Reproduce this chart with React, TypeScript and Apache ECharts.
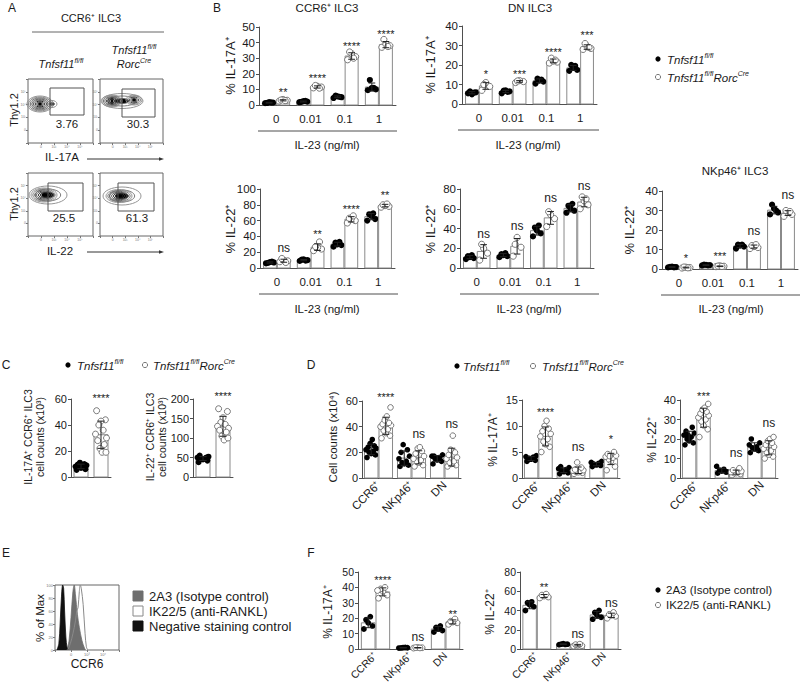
import React, { useEffect, useRef } from "react";
import * as echarts from "echarts";

const FONT = "'Liberation Sans', Arial, Helvetica, sans-serif";
const TXT = "#1a1a1a";
const AXIS = "#4f4f4f";
const BAR_EDGE = "#8a8a8a";
const OPEN_EDGE = "#6a6a6a";

// ---------- categories ----------
const IL23_DOSES = ["0", "0.01", "0.1", "1"];
const SUBSETS = ["CCR6⁺", "NKp46⁺", "DN"];
const C_GROUPS = ["fl/fl", "fl/fl Rorc-Cre"];

// ---------- B: IL-23 dose response ----------
const B1_FLOX = [[1.2, 1.5, 1.8, 1.3, 1.6], [1.8, 2.2, 2.5, 2.0, 2.6], [4.5, 5, 5.5, 6, 5.2], [9.5, 10, 11, 16, 11]];
const B1_CRE = [[2.5, 3.0, 3.5, 3.2, 2.8], [11, 11.5, 12, 12.5, 10.8], [29, 31, 33, 34, 30], [37, 38, 39, 42, 37.5]];
const B1_SIG = ["**", "****", "****", "****"];
const B1_SIG_Y = [10, 19, 39.5, 47];

const B2_FLOX = [[5.5, 6, 5, 6.5, 5.8], [5.5, 6.5, 7, 6.8, 6.2], [10.5, 11.5, 12, 13, 12.5], [17, 17.5, 18.5, 20, 19.5]];
const B2_CRE = [[7, 9, 11, 10], [11, 11.5, 12, 11.8], [21, 21.5, 22, 23.5, 22.5], [28, 28.5, 29.5, 31, 29]];
const B2_SIG = ["*", "***", "****", "***"];
const B2_SIG_Y = [16.5, 16.9, 28, 36.6];

const B3_FLOX = [[6, 7, 7.5, 6.5, 8], [9, 10, 11, 10.5, 9.5], [27, 29, 30, 32, 33], [60, 62, 66, 68, 69]];
const B3_CRE = [[8, 9, 10, 12, 7], [22, 24, 26, 27, 33], [57, 60, 62, 63, 66], [77, 78, 79, 80, 81]];
const B3_SIG = ["ns", "**", "****", "**"];
const B3_SIG_Y = [25.3, 46.4, 78, 95];

const B4_FLOX = [[9, 10, 11, 12, 13], [11, 12, 13, 14, 15], [32, 35, 38, 41, 43], [56, 58, 60, 63, 65]];
const B4_CRE = [[8, 15, 20, 24], [12, 21, 31, 24], [42, 50, 54, 57], [60, 64, 68, 72, 70]];
const B4_SIG = ["ns", "ns", "ns", "ns"];
const B4_SIG_Y = [34.7, 43, 71, 82.6];

const B5_FLOX = [[0.8, 1, 1.2, 1.1, 0.9], [1.8, 2, 2.1, 2.2, 1.9], [10.5, 11.5, 12, 12.5, 12.5], [28, 29, 31, 33, 30]];
const B5_CRE = [[0.5, 0.7, 0.9, 1.0, 0.6], [1.2, 1.4, 1.6, 1.5, 1.3], [10.5, 11, 11.5, 12, 12.5], [27, 28, 29, 30, 29.5]];
const B5_SIG = ["*", "***", "ns", "ns"];
const B5_SIG_Y = [6.8, 7.8, 19.4, 37.8];

// ---------- C: cell counts ----------
const C1_FLOX = [5.5, 6, 7, 7.5, 8, 8, 9, 9.5, 10, 11];
const C1_CRE = [51, 44, 43, 40, 36, 33, 30, 28, 25, 22, 19, 19];
const C1_SIG = ["****"];
const C1_SIG_Y = [62.5];

const C2_FLOX = [38, 42, 45, 47, 48, 50, 52, 55, 50, 46];
const C2_CRE = [175, 168, 152, 140, 135, 130, 125, 120, 115, 105, 95, 100];
const C2_SIG = ["****"];
const C2_SIG_Y = [214];

// ---------- D: subsets ----------
const D1_FLOX = [[16, 18, 19, 20, 21, 22, 23, 24, 25, 27, 30], [9, 10, 11, 12, 13, 15, 17, 20, 22, 26], [11, 13, 14, 15, 16, 17, 18, 17]];
const D1_CRE = [[31, 33, 35, 37, 38, 40, 41, 42, 43, 45, 48, 55], [9, 10, 12, 13, 14, 15, 17, 19, 21, 23, 24], [9, 10, 11, 12, 13, 15, 16, 18, 20, 22, 33]];
const D1_SIG = ["****", "ns", "ns"];
const D1_SIG_Y = [65.4, 34.4, 42.2];

const D2_FLOX = [[3.2, 3.4, 3.6, 3.8, 4.0, 4.1, 4.3, 3.5], [0.8, 1.0, 1.2, 1.4, 1.6, 1.8, 2.0, 2.2, 1.5], [2.2, 2.4, 2.5, 2.6, 2.8, 3.0, 3.2, 2.7]];
const D2_CRE = [[5, 6, 6.5, 7, 7.5, 8, 8.5, 9, 9.5, 10, 11], [0.8, 1.0, 1.1, 1.2, 1.3, 1.4, 1.5, 1.6, 2.0, 3.0], [1.5, 2.2, 3.2, 3.6, 3.9, 4.1, 4.3, 4.6, 5.0, 4.2]];
const D2_SIG = ["****", "ns", "*"];
const D2_SIG_Y = [13.2, 6, 7.9];

const D3_FLOX = [[17, 18, 19, 20, 21, 22, 23, 24, 26, 22], [2.5, 3, 3.5, 4, 4.5, 6, 3.2], [13, 14, 15, 15.5, 16, 17, 18, 20, 14.5]];
const D3_CRE = [[21, 25, 27, 29, 30, 31, 32, 33, 34, 35, 36, 38], [1.5, 2, 2.5, 2.5, 3, 3, 3.5, 4, 5], [10, 11, 12, 13, 14, 15, 16, 17, 18, 19, 20, 21]];
const D3_SIG = ["***", "ns", "ns"];
const D3_SIG_Y = [43.5, 12.9, 28];

// ---------- F: antibody treatment ----------
const F1_ISO = [[13, 15, 17, 19, 21], [0.6, 0.8, 0.9, 0.7, 1.0], [11, 12, 13, 14, 15]];
const F1_ANTI = [[33, 35, 37.5, 39, 40, 38], [0.6, 0.8, 1.0, 0.9, 0.7], [16, 17, 17.5, 18, 19.5]];
const F1_SIG = ["****", "ns", "**"];
const F1_SIG_Y = [46.4, 7.5, 24.2];

const F2_ISO = [[40, 44, 46, 48, 49], [4.5, 5, 5.5, 5, 4.8], [31, 33, 35, 38, 40]];
const F2_ANTI = [[53, 54, 55, 56, 57], [3, 3.5, 4, 4.5, 5], [32, 34, 35, 36, 38]];
const F2_SIG = ["**", "ns", "ns"];
const F2_SIG_Y = [67.3, 15.8, 47.4];

// ---------- E: CCR6 histograms (x in % of plotted decade range, y in % of max) ----------
const HIST_NEG = [[3, 0], [6, 10], [8, 40], [10, 80], [12, 100], [13.5, 95], [15, 60], [17, 20], [19, 3], [21, 0]];
const HIST_ISO = [[19, 0], [22, 15], [25, 50], [28, 90], [30, 100], [32, 85], [35, 55], [38, 35], [42, 15], [46, 3], [48, 0]];
const HIST_ANTI = [[20, 0], [24, 10], [28, 25], [32, 45], [34, 60], [36, 65], [38, 90], [39.5, 100], [41, 95], [44, 70], [47, 25], [49, 5], [51, 0]];

// ---------- A: flow gate percentages ----------
const A_PCT = ["3.76", "30.3", "25.5", "61.3"];

// ---------- helpers ----------
const mean = (a: number[]) => a.reduce((s, v) => s + v, 0) / a.length;
const sd = (a: number[]) => {
  const m = mean(a);
  return Math.sqrt(a.reduce((s, v) => s + (v - m) * (v - m), 0) / Math.max(1, a.length - 1));
};
const JIT = [-0.8, 0.8, 0, -0.4, 0.4, -1, 1, -0.6, 0.6, -0.2, 0.2, 0.9];

type PanelDef = {
  cats: string[];
  a: number[][];
  b: number[][];
  sig: string[];
  sigY: number[];
  yMax: number;
  yStep: number;
  box: [number, number, number, number];
  barFrac: number;
  dotR: number;
  labels: "flat" | "rot" | "none";
  labelSize: number;
  tickSize: number;
  single?: boolean;
};

const PANELS: PanelDef[] = [
  { cats: IL23_DOSES, a: B1_FLOX, b: B1_CRE, sig: B1_SIG, sigY: B1_SIG_Y, yMax: 50, yStep: 10, box: [259, 27, 137, 78], barFrac: 0.38, dotR: 3.1, labels: "flat", labelSize: 11.5, tickSize: 11.5 },
  { cats: IL23_DOSES, a: B2_FLOX, b: B2_CRE, sig: B2_SIG, sigY: B2_SIG_Y, yMax: 40, yStep: 10, box: [462, 26, 135, 78], barFrac: 0.38, dotR: 3.1, labels: "flat", labelSize: 11.5, tickSize: 11.5 },
  { cats: IL23_DOSES, a: B3_FLOX, b: B3_CRE, sig: B3_SIG, sigY: B3_SIG_Y, yMax: 100, yStep: 20, box: [260, 189, 135, 79], barFrac: 0.38, dotR: 3.1, labels: "flat", labelSize: 11.5, tickSize: 11.5 },
  { cats: IL23_DOSES, a: B4_FLOX, b: B4_CRE, sig: B4_SIG, sigY: B4_SIG_Y, yMax: 80, yStep: 20, box: [460, 189, 134, 79], barFrac: 0.38, dotR: 3.1, labels: "flat", labelSize: 11.5, tickSize: 11.5 },
  { cats: IL23_DOSES, a: B5_FLOX, b: B5_CRE, sig: B5_SIG, sigY: B5_SIG_Y, yMax: 40, yStep: 10, box: [662, 191, 136, 78], barFrac: 0.38, dotR: 3.1, labels: "flat", labelSize: 11.5, tickSize: 11.5 },
  { cats: C_GROUPS, a: [C1_FLOX], b: [C1_CRE], sig: C1_SIG, sigY: C1_SIG_Y, yMax: 60, yStep: 20, box: [71, 399, 40, 78], barFrac: 0.7, dotR: 3, labels: "none", labelSize: 11, tickSize: 11, single: true },
  { cats: C_GROUPS, a: [C2_FLOX], b: [C2_CRE], sig: C2_SIG, sigY: C2_SIG_Y, yMax: 200, yStep: 50, box: [193, 399, 40, 78], barFrac: 0.7, dotR: 3, labels: "none", labelSize: 11, tickSize: 11, single: true },
  { cats: SUBSETS, a: D1_FLOX, b: D1_CRE, sig: D1_SIG, sigY: D1_SIG_Y, yMax: 60, yStep: 20, box: [362, 401, 99, 77], barFrac: 0.41, dotR: 2.8, labels: "rot", labelSize: 11.5, tickSize: 11 },
  { cats: SUBSETS, a: D2_FLOX, b: D2_CRE, sig: D2_SIG, sigY: D2_SIG_Y, yMax: 15, yStep: 5, box: [522, 400, 98, 78], barFrac: 0.41, dotR: 2.8, labels: "rot", labelSize: 11.5, tickSize: 11 },
  { cats: SUBSETS, a: D3_FLOX, b: D3_CRE, sig: D3_SIG, sigY: D3_SIG_Y, yMax: 40, yStep: 10, box: [680, 400, 98, 78], barFrac: 0.41, dotR: 2.8, labels: "rot", labelSize: 11.5, tickSize: 11 },
  { cats: SUBSETS, a: F1_ISO, b: F1_ANTI, sig: F1_SIG, sigY: F1_SIG_Y, yMax: 50, yStep: 10, box: [358, 572, 105, 77], barFrac: 0.39, dotR: 2.9, labels: "rot", labelSize: 10.5, tickSize: 10.5 },
  { cats: SUBSETS, a: F2_ISO, b: F2_ANTI, sig: F2_SIG, sigY: F2_SIG_Y, yMax: 80, yStep: 20, box: [520, 572, 101, 77], barFrac: 0.4, dotR: 2.9, labels: "rot", labelSize: 10.5, tickSize: 10.5 },
];

function barSeries(pi: number, p: PanelDef) {
  const items: any[] = [];
  if (p.single) {
    items.push({ cat: 0, grp: 0, dots: p.a[0], pos: "c" });
    items.push({ cat: 1, grp: 1, dots: p.b[0], pos: "c", sig: p.sig[0], sigY: p.sigY[0] });
  } else {
    p.cats.forEach((_, c) => {
      items.push({ cat: c, grp: 0, dots: p.a[c], pos: "l" });
      items.push({ cat: c, grp: 1, dots: p.b[c], pos: "r", sig: p.sig[c], sigY: p.sigY[c] });
    });
  }
  return {
    type: "custom",
    xAxisIndex: pi,
    yAxisIndex: pi,
    clip: false,
    silent: true,
    data: items.map((it) => [it.cat, mean(it.dots)]),
    encode: { x: 0, y: 1 },
    renderItem: (params: any, api: any) => {
      const it = items[params.dataIndex];
      const band = api.size([1, 0])[0];
      const base = api.coord([it.cat, 0]);
      const cx = base[0];
      const y0 = base[1];
      const bw = band * p.barFrac;
      let x0 = cx - bw / 2;
      if (it.pos === "l") x0 = cx - bw - 0.5;
      if (it.pos === "r") x0 = cx + 0.5;
      const xm = x0 + bw / 2;
      const m = mean(it.dots);
      const s = sd(it.dots);
      const ym = api.coord([it.cat, m])[1];
      const children: any[] = [];
      children.push({
        type: "rect",
        shape: { x: x0, y: ym, width: bw, height: y0 - ym },
        style: { fill: "#fff", stroke: BAR_EDGE, lineWidth: 1 },
      });
      const spread = Math.max(2, bw / 2 - 1.5);
      it.dots.forEach((v: number, i: number) => {
        const y = api.coord([it.cat, v])[1];
        const dx = JIT[i % JIT.length] * spread;
        children.push({
          type: "circle",
          shape: { cx: xm + dx, cy: y, r: p.dotR },
          style: it.grp === 0 ? { fill: "#000" } : { fill: "#fff", stroke: OPEN_EDGE, lineWidth: 0.9 },
        });
      });
      const yt = api.coord([it.cat, m + s])[1];
      const yb = api.coord([it.cat, Math.max(0, m - s)])[1];
      const cap = bw * 0.26;
      const es = { stroke: "#222", lineWidth: 1 };
      children.push({ type: "line", shape: { x1: xm, y1: yt, x2: xm, y2: yb }, style: es });
      children.push({ type: "line", shape: { x1: xm - cap, y1: yt, x2: xm + cap, y2: yt }, style: es });
      children.push({ type: "line", shape: { x1: xm - cap, y1: yb, x2: xm + cap, y2: yb }, style: es });
      if (it.sig) {
        const isNs = it.sig === "ns";
        const ys = api.coord([it.cat, it.sigY])[1] + (isNs ? 0 : 2.5);
        children.push({
          type: "text",
          x: xm,
          y: ys,
          style: {
            text: it.sig,
            fill: TXT,
            fontSize: isNs ? 12 : 11,
            fontFamily: FONT,
            align: "center",
            verticalAlign: "middle",
          },
        });
      }
      return { type: "group", children };
    },
  };
}

const RICH = (size: number) => ({
  i: { fontStyle: "italic", fontSize: size, fontFamily: FONT, fill: TXT, lineHeight: size + 2, verticalAlign: "bottom" },
  s: { fontStyle: "italic", fontSize: Math.round(size * 0.64), fontFamily: FONT, fill: TXT, lineHeight: 6, verticalAlign: "top" },
  n: { fontSize: size, fontFamily: FONT, fill: TXT, lineHeight: size + 2, verticalAlign: "bottom" },
});

function txt(text: string, x: number, y: number, o: any = {}) {
  return {
    type: "text",
    x,
    y,
    rotation: o.rot || 0,
    silent: true,
    z: 10,
    style: {
      text,
      fill: o.fill || TXT,
      fontSize: o.size || 11,
      fontFamily: FONT,
      fontStyle: o.italic ? "italic" : "normal",
      align: o.align || "center",
      verticalAlign: o.va || "middle",
      rich: o.rich,
    },
  };
}
function ln(x1: number, y1: number, x2: number, y2: number, color = AXIS, w = 1) {
  return { type: "line", silent: true, z: 10, shape: { x1, y1, x2, y2 }, style: { stroke: color, lineWidth: w } };
}
function dot(x: number, y: number, open: boolean) {
  return {
    type: "circle",
    silent: true,
    z: 10,
    shape: { cx: x, cy: y, r: 2.6 },
    style: open ? { fill: "#fff", stroke: OPEN_EDGE, lineWidth: 0.9 } : { fill: "#000" },
  };
}
function contour(cx: number, cy: number, rx: number, ry: number, levels: number, dark: number) {
  const out: any[] = [];
  for (let k = 0; k < levels; k++) {
    const s = 1 - k / levels;
    const t = k / Math.max(1, levels - 1);
    const g = Math.round(150 - (150 - dark) * t);
    const c = `rgb(${g},${g},${g})`;
    out.push({
      type: "ellipse",
      silent: true,
      z: 10,
      shape: { cx, cy, rx: Math.max(1, rx * s), ry: Math.max(0.8, ry * s) },
      style: { fill: k === levels - 1 ? "#000" : "none", stroke: c, lineWidth: 1 },
    });
  }
  return out;
}

function buildOption() {
  const grids: any[] = [];
  const xAxes: any[] = [];
  const yAxes: any[] = [];
  const series: any[] = [];

  PANELS.forEach((p, i) => {
    grids.push({ left: p.box[0], top: p.box[1], width: p.box[2], height: p.box[3], containLabel: false });
    xAxes.push({
      type: "category",
      gridIndex: i,
      data: p.cats,
      axisLine: { show: true, lineStyle: { color: AXIS, width: 1 } },
      axisTick: { show: false },
      axisLabel: {
        show: p.labels !== "none",
        interval: 0,
        rotate: p.labels === "rot" ? 45 : 0,
        margin: p.labels === "rot" ? 5 : 8,
        color: TXT,
        fontSize: p.labelSize,
        fontFamily: FONT,
      },
      splitLine: { show: false },
    });
    yAxes.push({
      type: "value",
      gridIndex: i,
      min: 0,
      max: p.yMax,
      interval: p.yStep,
      axisLine: { show: true, lineStyle: { color: AXIS, width: 1 } },
      axisTick: { show: true, length: 3, lineStyle: { color: AXIS } },
      axisLabel: { color: TXT, fontSize: p.tickSize, fontFamily: FONT, margin: 4 },
      splitLine: { show: false },
    });
    series.push(barSeries(i, p));
  });

  // E histogram grid
  const hi = grids.length;
  grids.push({ left: 55, top: 585, width: 64, height: 65, show: true, borderColor: "#666", borderWidth: 1, backgroundColor: "transparent" });
  xAxes.push({
    type: "value", gridIndex: hi, min: 0, max: 100, interval: 25,
    axisLine: { show: false }, axisTick: { show: true, length: 2, lineStyle: { color: "#777" } },
    axisLabel: { fontSize: 4, color: "#777", margin: 2, formatter: (v: number) => (({ 0: "", 25: "0", 50: "10³", 75: "10⁴", 100: "" } as any)[v] ?? "") },
    splitLine: { show: false },
  });
  yAxes.push({
    type: "value", gridIndex: hi, min: 0, max: 100, interval: 20,
    axisLine: { show: false }, axisTick: { show: true, length: 2, lineStyle: { color: "#777" } },
    axisLabel: { fontSize: 4, color: "#777", margin: 2 },
    splitLine: { show: false },
  });
  const histBase = { type: "line", xAxisIndex: hi, yAxisIndex: hi, smooth: 0.35, symbol: "none", silent: true };
  series.push({ ...histBase, data: HIST_ANTI, lineStyle: { width: 0 }, areaStyle: { color: "#fff", opacity: 1 } });
  series.push({ ...histBase, data: HIST_ISO, lineStyle: { color: "#6e6e6e", width: 0.8 }, areaStyle: { color: "#6e6e6e", opacity: 1 } });
  series.push({ ...histBase, data: HIST_NEG, lineStyle: { color: "#111", width: 0.8 }, areaStyle: { color: "#111", opacity: 1 } });
  series.push({ ...histBase, data: HIST_ANTI, lineStyle: { color: "#8a8a8a", width: 1 } });

  // A flow plot frames
  const flowBoxes: [number, number, number, number][] = [
    [28, 79, 65, 64], [100, 79, 63, 64], [28, 173, 65, 63], [100, 173, 63, 63],
  ];
  const decade = (v: number) => (v === 0 || v === 5 ? "" : v === 1 ? "0" : "10" + ["", "", "³", "⁴", "⁵"][v]);
  flowBoxes.forEach((b) => {
    const gi = grids.length;
    grids.push({ left: b[0], top: b[1], width: b[2], height: b[3], show: true, borderColor: "#666", borderWidth: 1, backgroundColor: "transparent" });
    xAxes.push({
      type: "value", gridIndex: gi, min: 0, max: 5, interval: 1,
      axisLine: { show: false }, axisTick: { show: true, length: 2, lineStyle: { color: "#777" } },
      axisLabel: { fontSize: 3.5, color: "#777", margin: 2, formatter: decade },
      splitLine: { show: false },
    });
    yAxes.push({
      type: "value", gridIndex: gi, min: 0, max: 5, interval: 1,
      axisLine: { show: false }, axisTick: { show: true, length: 2, lineStyle: { color: "#777" } },
      axisLabel: { fontSize: 3.5, color: "#777", margin: 2, formatter: decade },
      splitLine: { show: false },
    });
  });

  const g: any[] = [];
  // panel letters
  g.push(txt("A", 12, 8, { size: 12 }));
  g.push(txt("B", 217, 8, { size: 12 }));
  g.push(txt("C", 6, 365, { size: 12 }));
  g.push(txt("D", 311, 365, { size: 12 }));
  g.push(txt("E", 6, 553, { size: 12 }));
  g.push(txt("F", 311, 553, { size: 12 }));

  // ----- A -----
  g.push(txt("CCR6⁺ ILC3", 91, 18, { size: 11 }));
  g.push(ln(32, 32, 164, 32, "#666"));
  g.push(txt("{i|Tnfsf11}{s|fl/fl}", 61, 63, { rich: RICH(11) }));
  g.push(txt("{i|Tnfsf11}{s|fl/fl}", 134, 49, { rich: RICH(11) }));
  g.push(txt("{i|Rorc}{s|Cre}", 134, 63, { rich: RICH(11) }));
  // contours
  g.push(...contour(52, 104, 5, 3.5, 2, 120));
  g.push(...contour(40, 104, 13, 8, 8, 0));
  g.push(...contour(122, 101, 21, 7.5, 3, 100));
  g.push(...contour(112, 101, 10, 6, 7, 0));
  g.push(...contour(134, 100, 8, 5, 5, 10));
  g.push(...contour(48, 195, 19, 9, 3, 100));
  g.push(...contour(44, 195, 13, 7, 7, 0));
  g.push(...contour(122, 196, 19, 9, 3, 100));
  g.push(...contour(119, 196, 13, 6.5, 7, 0));
  // gates
  const gates = [[50, 88, 34, 27], [122, 89, 33, 28], [48, 183, 35, 28], [118, 183, 36, 28]];
  gates.forEach((r) =>
    g.push({ type: "rect", silent: true, z: 11, shape: { x: r[0], y: r[1], width: r[2], height: r[3] }, style: { fill: "none", stroke: "#555", lineWidth: 1 } })
  );
  g.push(txt(A_PCT[0], 67, 124, { size: 11.5 }));
  g.push(txt(A_PCT[1], 138, 124, { size: 11.5 }));
  g.push(txt(A_PCT[2], 64, 218, { size: 11.5 }));
  g.push(txt(A_PCT[3], 137, 218, { size: 11.5 }));
  g.push(txt("Thy1.2", 14, 110, { size: 11, rot: Math.PI / 2 }));
  g.push(txt("Thy1.2", 14, 204, { size: 11, rot: Math.PI / 2 }));
  g.push(txt("IL-17A", 62, 157, { size: 11.5 }));
  g.push(txt("IL-22", 60, 251, { size: 11.5 }));
  g.push(ln(87, 159, 161, 159, "#333"));
  g.push({ type: "polygon", silent: true, z: 10, shape: { points: [[164, 159], [159, 157.2], [159, 160.8]] }, style: { fill: "#333" } });
  g.push(ln(87, 252, 161, 252, "#333"));
  g.push({ type: "polygon", silent: true, z: 10, shape: { points: [[164, 252], [159, 250.2], [159, 253.8]] }, style: { fill: "#333" } });

  // ----- B -----
  g.push(txt("CCR6⁺ ILC3", 327, 8, { size: 11.5 }));
  g.push(txt("DN ILC3", 530, 8, { size: 11.5 }));
  g.push(txt("NKp46⁺ ILC3", 735, 171, { size: 11.5 }));
  g.push(dot(658, 59, false));
  g.push(txt("{i|Tnfsf11}{s|fl/fl}", 667, 59, { align: "left", rich: RICH(11.5) }));
  g.push(dot(658, 77, true));
  g.push(txt("{i|Tnfsf11}{s|fl/fl}{i|Rorc}{s|Cre}", 667, 77, { align: "left", rich: RICH(11.5) }));
  g.push(ln(258, 131, 397, 131));
  g.push(txt("IL-23 (ng/ml)", 327, 145, { size: 11.5 }));
  g.push(ln(458, 130, 599, 130));
  g.push(txt("IL-23 (ng/ml)", 528, 145, { size: 11.5 }));
  g.push(ln(259, 294, 398, 294));
  g.push(txt("IL-23 (ng/ml)", 327, 309, { size: 11.5 }));
  g.push(ln(460, 294, 599, 294));
  g.push(txt("IL-23 (ng/ml)", 529, 309, { size: 11.5 }));
  g.push(ln(661, 295, 800, 295));
  g.push(txt("IL-23 (ng/ml)", 731, 309, { size: 11.5 }));
  g.push(txt("% IL-17A⁺", 230, 66, { size: 13, rot: Math.PI / 2 }));
  g.push(txt("% IL-17A⁺", 430, 65, { size: 13, rot: Math.PI / 2 }));
  g.push(txt("% IL-22⁺", 230, 229, { size: 13, rot: Math.PI / 2 }));
  g.push(txt("% IL-22⁺", 430, 229, { size: 13, rot: Math.PI / 2 }));
  g.push(txt("% IL-22⁺", 629, 230, { size: 13, rot: Math.PI / 2 }));

  // ----- C -----
  g.push(dot(68, 365, false));
  g.push(txt("{i|Tnfsf11}{s|fl/fl}", 77, 365, { align: "left", rich: RICH(11.5) }));
  g.push(dot(145, 365, true));
  g.push(txt("{i|Tnfsf11}{s|fl/fl}{i|Rorc}{s|Cre}", 153, 365, { align: "left", rich: RICH(11.5) }));
  g.push(txt("IL-17A⁺ CCR6⁺ ILC3", 28, 437, { size: 10.5, rot: Math.PI / 2 }));
  g.push(txt("cell counts (x10³)", 40, 437, { size: 10.5, rot: Math.PI / 2 }));
  g.push(txt("IL-22⁺ CCR6⁺ ILC3", 150, 437, { size: 10.5, rot: Math.PI / 2 }));
  g.push(txt("cell counts (x10³)", 162, 437, { size: 10.5, rot: Math.PI / 2 }));

  // ----- D -----
  g.push(dot(457, 366, false));
  g.push(txt("{i|Tnfsf11}{s|fl/fl}", 463, 366, { align: "left", rich: RICH(11.5) }));
  g.push(dot(533, 366, true));
  g.push(txt("{i|Tnfsf11}{s|fl/fl}{i|Rorc}{s|Cre}", 542, 366, { align: "left", rich: RICH(11.5) }));
  g.push(txt("Cell counts (x10⁴)", 333, 437, { size: 11.5, rot: Math.PI / 2 }));
  g.push(txt("% IL-17A⁺", 493, 440, { size: 12, rot: Math.PI / 2 }));
  g.push(txt("% IL-22⁺", 652, 440, { size: 12, rot: Math.PI / 2 }));

  // ----- E -----
  g.push(txt("% of Max", 40, 618, { size: 11.5, rot: Math.PI / 2 }));
  g.push(txt("CCR6", 87, 664, { size: 12 }));
  g.push({ type: "rect", silent: true, z: 10, shape: { x: 133, y: 591, width: 10, height: 10 }, style: { fill: "#6e6e6e", stroke: "#6e6e6e" } });
  g.push({ type: "rect", silent: true, z: 10, shape: { x: 133, y: 606, width: 10, height: 10 }, style: { fill: "#fff", stroke: "#888", lineWidth: 1 } });
  g.push({ type: "rect", silent: true, z: 10, shape: { x: 133, y: 621, width: 10, height: 10 }, style: { fill: "#111", stroke: "#111" } });
  g.push(txt("2A3 (Isotype control)", 149, 596, { size: 13, align: "left" }));
  g.push(txt("IK22/5 (anti-RANKL)", 149, 611, { size: 13, align: "left" }));
  g.push(txt("Negative staining control", 149, 626, { size: 13, align: "left" }));

  // ----- F -----
  g.push(txt("% IL-17A⁺", 328, 612, { size: 12, rot: Math.PI / 2 }));
  g.push(txt("% IL-22⁺", 490, 612, { size: 12, rot: Math.PI / 2 }));
  g.push(dot(658, 590, false));
  g.push(txt("2A3 (Isotype control)", 666, 590, { size: 11.5, align: "left" }));
  g.push(dot(658, 605, true));
  g.push(txt("IK22/5 (anti-RANKL)", 666, 605, { size: 11.5, align: "left" }));

  return {
    animation: false,
    backgroundColor: "#fff",
    textStyle: { fontFamily: FONT },
    grid: grids,
    xAxis: xAxes,
    yAxis: yAxes,
    series,
    graphic: g,
  };
}

export default function App() {
  const ref = useRef<HTMLDivElement>(null);
  useEffect(() => {
    const chart = echarts.init(ref.current as HTMLDivElement, null, { renderer: "svg" });
    chart.setOption(buildOption() as any);
    return () => chart.dispose();
  }, []);
  return (
    <div
      ref={ref}
      style={{ position: "absolute", left: 0, top: 0, width: 800, height: 687, background: "#fff" }}
    />
  );
}
